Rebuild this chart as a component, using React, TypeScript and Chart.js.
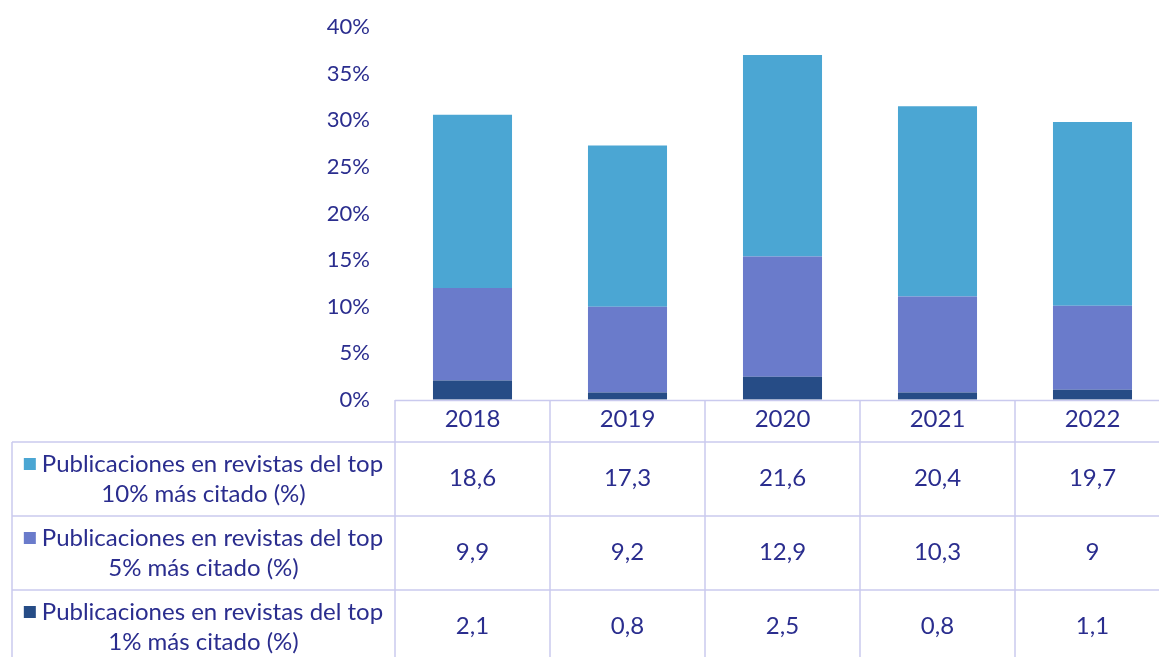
import React, { useEffect, useRef } from "react";
import { Chart, registerables } from "chart.js";

Chart.register(...registerables);

const categories = ["2018", "2019", "2020", "2021", "2022"];
const top10 = [18.6, 17.3, 21.6, 20.4, 19.7];
const top5 = [9.9, 9.2, 12.9, 10.3, 9];
const top1 = [2.1, 0.8, 2.5, 0.8, 1.1];
const seriesLabels = [
  ["Publicaciones en revistas del top", "10% más citado (%)"],
  ["Publicaciones en revistas del top", "5% más citado (%)"],
  ["Publicaciones en revistas del top", "1% más citado (%)"],
];
const colors = ["#4BA6D3", "#6A7BCB", "#264C86"];

const TEXT = "#2A2D8E";
const LINE = "#CACAEE";
const FONT = "Lato, 'Open Sans', sans-serif";

const fmt = (v: number) => String(v).replace(".", ",");

const tablePlugin = {
  id: "dataTable",
  afterDraw(chart: any) {
    const ctx = chart.ctx as CanvasRenderingContext2D;
    const x = chart.scales.x;
    const y = chart.scales.y;
    const top = y.getPixelForValue(0);
    const headerH = 42;
    const rowH = 74;
    const leftEdge = 12;
    const n = categories.length;
    const half = (x.getPixelForValue(1) - x.getPixelForValue(0)) / 2;
    const colLeft = (i: number) => x.getPixelForValue(i) - half;
    const tableLeft = colLeft(0);
    const tableRight = colLeft(n - 1) + 2 * half;
    ctx.save();
    ctx.strokeStyle = LINE;
    ctx.lineWidth = 1.5;
    ctx.beginPath();
    ctx.moveTo(tableLeft, top + 0.5);
    ctx.lineTo(tableRight, top + 0.5);
    for (let i = 0; i <= n; i++) {
      const cx = i === n ? tableRight : colLeft(i);
      ctx.moveTo(cx, top);
      ctx.lineTo(cx, top + headerH + rowH * 3 + 10);
    }
    for (let r = 0; r < 3; r++) {
      const yy = top + headerH + rowH * r;
      ctx.moveTo(leftEdge, yy);
      ctx.lineTo(tableRight, yy);
    }
    ctx.moveTo(leftEdge, top + headerH);
    ctx.lineTo(leftEdge, top + headerH + rowH * 3 + 10);
    ctx.stroke();

    ctx.fillStyle = TEXT;
    ctx.textAlign = "center";
    ctx.textBaseline = "middle";
    ctx.font = `24px ${FONT}`;
    categories.forEach((c, i) => {
      ctx.fillText(c, x.getPixelForValue(i), top + 19);
    });
    const rows = [top10, top5, top1];
    rows.forEach((vals, r) => {
      const cy = top + headerH + rowH * r + rowH / 2;
      ctx.font = `24px ${FONT}`;
      ctx.textAlign = "center";
      vals.forEach((v, i) => {
        ctx.fillText(fmt(v), x.getPixelForValue(i), cy - 1);
      });
      const cellCenter = (leftEdge + tableLeft) / 2;
      const [l1, l2] = seriesLabels[r];
      ctx.font = `24px ${FONT}`;
      const w1 = ctx.measureText(l1).width;
      const sq = 12;
      const gap = 6;
      const total = sq + gap + w1;
      const sx = cellCenter - total / 2;
      ctx.fillStyle = colors[r];
      ctx.fillRect(sx, cy - 15 - sq / 2, sq, sq);
      ctx.fillStyle = TEXT;
      ctx.textAlign = "left";
      ctx.fillText(l1, sx + sq + gap, cy - 15);
      ctx.textAlign = "center";
      ctx.fillText(l2, cellCenter, cy + 15);
    });
    ctx.restore();
  },
};

export default function App() {
  const ref = useRef<HTMLCanvasElement>(null);
  useEffect(() => {
    document.body.style.margin = "0";
    document.body.style.overflow = "hidden";
    const chart = new Chart(ref.current!, {
      type: "bar",
      data: {
        labels: categories,
        datasets: [
          { label: "top1", data: top1, backgroundColor: colors[2] },
          { label: "top5", data: top5, backgroundColor: colors[1] },
          { label: "top10", data: top10, backgroundColor: colors[0] },
        ],
      },
      options: {
        responsive: false,
        animation: false,
        layout: { padding: { top: 27, bottom: 257, left: 0, right: 0 } },
        datasets: { bar: { barPercentage: 0.51, categoryPercentage: 1 } },
        plugins: { legend: { display: false }, tooltip: { enabled: false } },
        scales: {
          x: { stacked: true, display: false },
          y: {
            stacked: true,
            min: 0,
            max: 40,
            afterFit: (s: any) => {
              s.width = 395;
            },
            grid: {
              display: true,
              drawOnChartArea: false,
              drawTicks: true,
              tickLength: 25,
              color: "rgba(0,0,0,0)",
            },
            border: { display: false },
            ticks: {
              stepSize: 5,
              padding: 0,
              color: TEXT,
              font: { family: FONT, size: 22 },
              callback: (v: any) => `${v}%`,
            },
          },
        },
      },
      plugins: [tablePlugin],
    });
    return () => chart.destroy();
  }, []);
  return (
    <div style={{ width: 1159, height: 657, overflow: "hidden", background: "#fff" }}>
      <canvas ref={ref} width={1170} height={657} style={{ display: "block" }} />
    </div>
  );
}
